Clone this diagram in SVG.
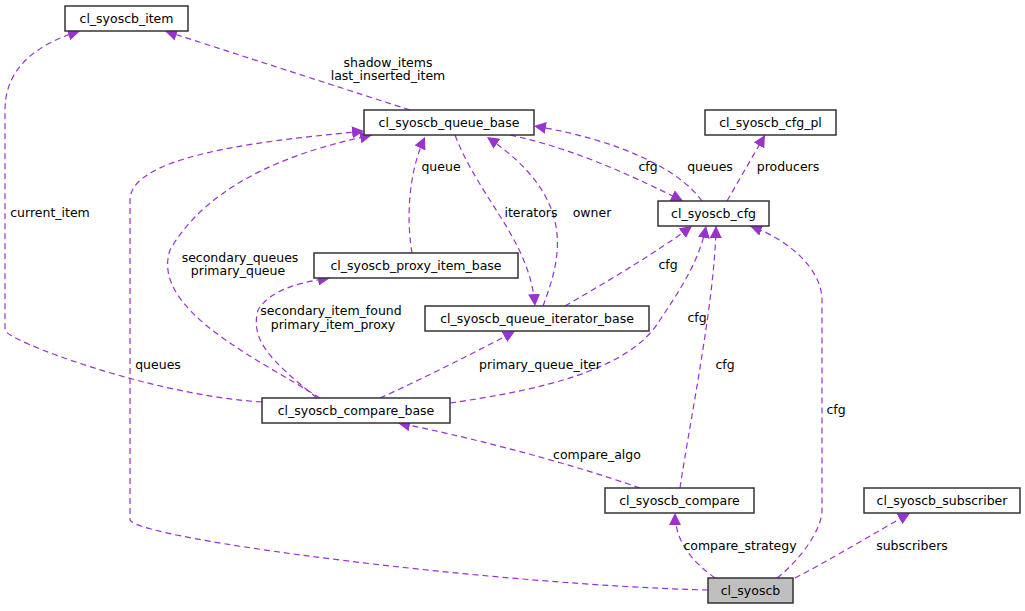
<svg xmlns="http://www.w3.org/2000/svg" width="1025" height="611" viewBox="0 0 1025 611">
<defs>
<marker id="ah" viewBox="0 0 10 10" refX="10" refY="5" markerWidth="12" markerHeight="12" markerUnits="userSpaceOnUse" orient="auto"><path d="M0,0 L10,5 L0,10 z" fill="#9a32cd"/></marker>
<style>
.n rect{fill:#fff;stroke:#333;stroke-width:1.5}
.n text,.l{font-family:"DejaVu Sans",sans-serif;font-size:12.5px;fill:#000}
.n text{text-anchor:middle}
.l{text-anchor:middle}
#edges path{fill:none;stroke:#9a32cd;stroke-width:1.2;stroke-dasharray:6,4;marker-end:url(#ah)}
</style>
</defs>
<rect width="1025" height="611" fill="#fff"/>
<g id="edges">
<path d="M410,110 L165,31"/>
<path d="M262,402 C150,395 5,340 5,330 L5,110 C5,60 50,40 80,31"/>
<path d="M708,590 C500,585 140,540 130,520 L130,200 C130,150 300,138 364,131"/>
<path d="M320,398 C260,360 150,310 170,250 C210,180 300,150 372,135"/>
<path d="M412,253 C408,230 405,180 425,137"/>
<path d="M455,135 C480,200 530,240 535,306"/>
<path d="M543,306 C560,260 580,200 487,137"/>
<path d="M510,135 C580,150 640,180 683,201"/>
<path d="M702,201 C680,170 620,140 534,126"/>
<path d="M727,201 L765,135"/>
<path d="M565,306 C610,280 660,250 692,226"/>
<path d="M450,403 C540,390 630,370 660,320 C680,290 700,260 706,226"/>
<path d="M680,488 C690,420 715,300 716,226"/>
<path d="M777,578 C800,560 822,530 822,510 L822,300 C822,270 790,240 750,226"/>
<path d="M317,398 C270,360 250,340 258,310 C270,290 300,282 330,278"/>
<path d="M380,398 C420,380 480,350 515,331"/>
<path d="M640,488 C560,460 460,435 398,423"/>
<path d="M715,578 C690,560 675,540 675,513"/>
<path d="M795,578 C830,560 880,530 910,513"/>
</g>
<g id="labels">
<text class="l" x="388" y="67">shadow_items</text>
<text class="l" x="388" y="80">last_inserted_item</text>
<text class="l" x="50" y="217">current_item</text>
<text class="l" x="158" y="369">queues</text>
<text class="l" x="240" y="262">secondary_queues</text>
<text class="l" x="238" y="275">primary_queue</text>
<text class="l" x="441" y="171">queue</text>
<text class="l" x="531" y="217">iterators</text>
<text class="l" x="592" y="217">owner</text>
<text class="l" x="648" y="171">cfg</text>
<text class="l" x="710" y="171">queues</text>
<text class="l" x="788" y="171">producers</text>
<text class="l" x="668" y="269">cfg</text>
<text class="l" x="697" y="322">cfg</text>
<text class="l" x="725" y="369">cfg</text>
<text class="l" x="836" y="414">cfg</text>
<text class="l" x="331" y="315">secondary_item_found</text>
<text class="l" x="333" y="329">primary_item_proxy</text>
<text class="l" x="540" y="369">primary_queue_iter</text>
<text class="l" x="597" y="459">compare_algo</text>
<text class="l" x="740" y="550">compare_strategy</text>
<text class="l" x="912" y="550">subscribers</text>
</g>
<g id="n_item" class="n"><rect x="65" y="6" width="123" height="25"/><text x="126.5" y="23">cl_syoscb_item</text></g>
<g id="n_queue_base" class="n"><rect x="364" y="110" width="170" height="25"/><text x="449" y="127">cl_syoscb_queue_base</text></g>
<g id="n_cfg_pl" class="n"><rect x="705" y="110" width="131" height="25"/><text x="770.5" y="127">cl_syoscb_cfg_pl</text></g>
<g id="n_cfg" class="n"><rect x="658" y="201" width="111" height="25"/><text x="713.5" y="218">cl_syoscb_cfg</text></g>
<g id="n_proxy" class="n"><rect x="314" y="253" width="204" height="25"/><text x="416" y="270">cl_syoscb_proxy_item_base</text></g>
<g id="n_iter" class="n"><rect x="425" y="306" width="224" height="25"/><text x="537" y="323">cl_syoscb_queue_iterator_base</text></g>
<g id="n_compare_base" class="n"><rect x="262" y="398" width="188" height="25"/><text x="356" y="415">cl_syoscb_compare_base</text></g>
<g id="n_compare" class="n"><rect x="605" y="488" width="149" height="25"/><text x="679.5" y="505">cl_syoscb_compare</text></g>
<g id="n_subscriber" class="n"><rect x="864" y="488" width="156" height="25"/><text x="942" y="505">cl_syoscb_subscriber</text></g>
<g id="n_syoscb" class="n"><rect x="708" y="578" width="85" height="25" style="fill:#bfbfbf"/><text x="750.5" y="595">cl_syoscb</text></g>
</svg>
